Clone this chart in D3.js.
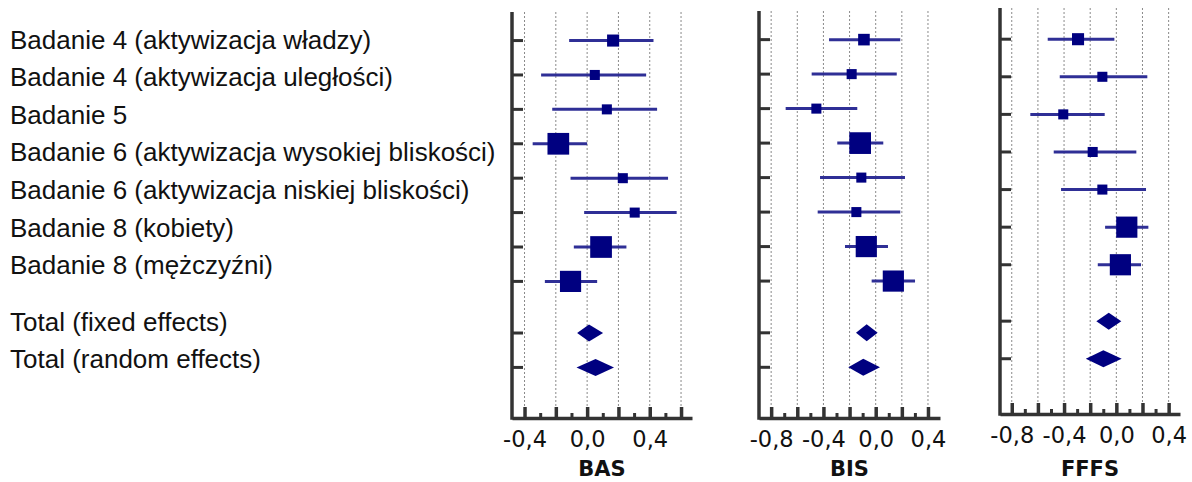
<!DOCTYPE html>
<html><head><meta charset="utf-8">
<script src="https://cdn.jsdelivr.net/npm/d3@7"></script>
<style>body{margin:0;background:#fff}svg{display:block}</style>
</head><body>
<svg id="chart" width="1192" height="482"></svg>
<script>
// ---- data ----
const studyLabels = ["Badanie 4 (aktywizacja władzy)", "Badanie 4 (aktywizacja uległości)", "Badanie 5",
  "Badanie 6 (aktywizacja wysokiej bliskości)", "Badanie 6 (aktywizacja niskiej bliskości)",
  "Badanie 8 (kobiety)", "Badanie 8 (mężczyźni)"];
const totalLabels = ["Total (fixed effects)", "Total (random effects)"];

const basEst = [0.166, 0.049, 0.126, -0.184, 0.228, 0.304, 0.089, -0.106];
const basLo  = [-0.115, -0.294, -0.223, -0.348, -0.106, -0.019, -0.085, -0.270];
const basHi  = [0.424, 0.377, 0.447, 0.000, 0.517, 0.572, 0.251, 0.064];
const basW   = [6.5, 4.5, 4.5, 21, 4.5, 4.5, 21, 20];
const basFixed  = [-0.064, 0.012, 0.102];
const basRandom = [-0.068, 0.054, 0.172];

const bisEst = [-0.090, -0.184, -0.454, -0.119, -0.110, -0.148, -0.072, 0.135];
const bisLo  = [-0.357, -0.490, -0.689, -0.294, -0.426, -0.444, -0.235, -0.031];
const bisHi  = [0.188, 0.161, -0.141, 0.058, 0.224, 0.188, 0.094, 0.301];
const bisW   = [6, 4.5, 4.5, 21, 4.5, 4.5, 20, 20];
const bisFixed  = [-0.151, -0.069, 0.015];
const bisRandom = [-0.210, -0.095, 0.033];

const fffsEst = [-0.293, -0.107, -0.406, -0.181, -0.107, 0.080, 0.031];
const fffsLo  = [-0.525, -0.433, -0.658, -0.479, -0.423, -0.086, -0.142];
const fffsHi  = [-0.015, 0.237, -0.089, 0.153, 0.227, 0.245, 0.189];
const fffsW   = [6.5, 4.5, 4.5, 4.5, 4.5, 20, 20];
const fffsFixed  = [-0.153, -0.058, 0.038];
const fffsRandom = [-0.234, -0.099, 0.041];

const basTicks = [-0.4, -0.2, 0, 0.2, 0.4, 0.6];
const basLabels = [-0.4, 0, 0.4];
const bisTicks = [-0.8, -0.6, -0.4, -0.2, 0, 0.2, 0.4];
const bisLabels = [-0.8, -0.4, 0, 0.4];

// ---- drawing ----
const svg = d3.select("#chart");
const fmt = v => (v < -1e-9 ? "-" : "") + Math.abs(v).toFixed(1).replace(".", ",");
const lineCol = "#2f2f96", markCol = "#000080", axisCol = "#333";

const panels = [
  {title: "BAS", est: basEst, lo: basLo, hi: basHi, w: basW, fixed: basFixed, random: basRandom,
   dom: [-0.48, 0.67], range: [512, 692], yr: [12, 418], ticks: basTicks, labels: basLabels},
  {title: "BIS", est: bisEst, lo: bisLo, hi: bisHi, w: bisW, fixed: bisFixed, random: bisRandom,
   dom: [-0.893, 0.492], range: [759, 940], yr: [11, 418], ticks: bisTicks, labels: bisLabels},
  {title: "FFFS", est: fffsEst, lo: fffsLo, hi: fffsHi, w: fffsW, fixed: fffsFixed, random: fffsRandom,
   dom: [-0.89, 0.487], range: [1000, 1180], yr: [8, 414], ticks: bisTicks, labels: bisLabels}
];

const sizeScale = d3.scaleSqrt().domain([0, 21]).range([0, 21.7]);

function yScaleFor(n, yr) {
  return d3.scaleLinear().domain([-0.83, n + 2.97]).range(yr);
}

panels.forEach(p => {
  const n = p.est.length;
  const x = d3.scaleLinear().domain(p.dom).range(p.range);
  const y = yScaleFor(n, p.yr);
  const g = svg.append("g");
  const bottom = p.yr[1];

  // gridlines
  g.selectAll(".grid").data(p.ticks).join("line")
    .attr("x1", d => x(d)).attr("x2", d => x(d))
    .attr("y1", p.yr[0]).attr("y2", bottom)
    .attr("stroke", "#8a8a8a").attr("stroke-width", 1).attr("stroke-dasharray", "2,2");

  // minor ticks
  const minor = d3.range(p.ticks.length - 1).map(i => (p.ticks[i] + p.ticks[i + 1]) / 2);
  g.append("g").attr("transform", `translate(0,${bottom})`)
    .call(d3.axisBottom(x).tickValues(minor).tickSize(-5).tickSizeOuter(0).tickFormat(""))
    .call(a => a.select(".domain").remove())
    .call(a => a.selectAll(".tick line").attr("stroke", axisCol).attr("stroke-width", 3));

  // major axis
  g.append("g").attr("transform", `translate(0,${bottom})`)
    .call(d3.axisBottom(x).tickValues(p.ticks).tickSize(-11).tickSizeOuter(0).tickPadding(13)
      .tickFormat(d => p.labels.some(l => Math.abs(l - d) < 1e-9) ? fmt(d) : ""))
    .call(a => a.select(".domain").attr("stroke", axisCol).attr("stroke-width", 3.5))
    .call(a => a.selectAll(".tick line").attr("stroke", axisCol).attr("stroke-width", 3.5))
    .call(a => a.selectAll(".tick text").attr("fill", "#111")
      .style("font-family", "'DejaVu Sans', sans-serif").style("font-size", "22.5px"));

  // y axis line
  g.append("line").attr("x1", p.range[0]).attr("x2", p.range[0])
    .attr("y1", p.yr[0]).attr("y2", bottom + 1.75)
    .attr("stroke", axisCol).attr("stroke-width", 3.5);

  const rowIdx = d3.range(n).concat([n + 0.5, n + 1.5]);
  g.selectAll(".rt").data(rowIdx).join("line")
    .attr("x1", p.range[0]).attr("x2", p.range[0] + 11)
    .attr("y1", d => y(d)).attr("y2", d => y(d))
    .attr("stroke", axisCol).attr("stroke-width", 3);

  // CI lines
  g.selectAll(".ci").data(d3.range(n)).join("line")
    .attr("x1", i => x(p.lo[i])).attr("x2", i => x(p.hi[i]))
    .attr("y1", i => y(i)).attr("y2", i => y(i))
    .attr("stroke", lineCol).attr("stroke-width", 3);

  // squares
  g.selectAll(".sq").data(d3.range(n)).join("rect")
    .attr("x", i => x(p.est[i]) - sizeScale(p.w[i]) / 2)
    .attr("y", i => y(i) - sizeScale(p.w[i]) / 2)
    .attr("width", i => sizeScale(p.w[i]))
    .attr("height", i => sizeScale(p.w[i]))
    .attr("fill", markCol);

  // diamonds
  [[p.fixed, n + 0.5], [p.random, n + 1.5]].forEach(([d, r]) => {
    const cy = y(r), h = 8.5;
    g.append("path")
      .attr("d", `M${x(d[0])},${cy}L${x(d[1])},${cy - h}L${x(d[2])},${cy}L${x(d[1])},${cy + h}Z`)
      .attr("fill", markCol);
  });

  // title
  g.append("text").attr("x", (p.range[0] + p.range[1]) / 2).attr("y", 476)
    .attr("text-anchor", "middle").attr("fill", "#111")
    .style("font-family", "'DejaVu Sans', sans-serif").style("font-size", "21px").style("font-weight", "bold")
    .text(p.title);
});

// left labels (use 7-row layout)
const yL = yScaleFor(studyLabels.length, [8, 414]);
const allLabels = studyLabels.map((t, i) => ({t, r: i}))
  .concat(totalLabels.map((t, i) => ({t, r: studyLabels.length + 0.5 + i})));
svg.append("g").selectAll("text").data(allLabels).join("text")
  .attr("x", 10).attr("y", d => yL(d.r)).attr("dy", "0.36em")
  .attr("fill", "#111")
  .style("font-family", "'Liberation Sans', Arial, sans-serif").style("font-size", "26px")
  .text(d => d.t);
</script>
</body></html>
